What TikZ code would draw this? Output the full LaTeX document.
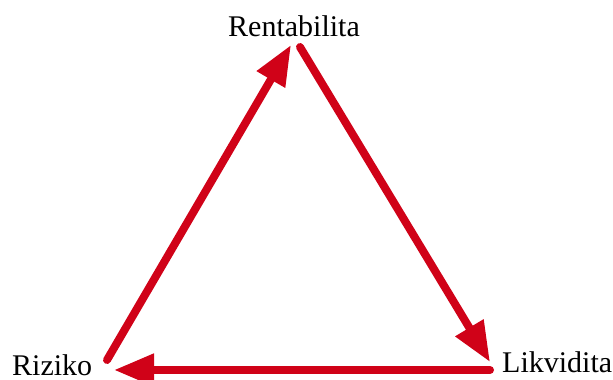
\documentclass[tikz,border=0pt]{standalone}
\usepackage{fontspec}
\setmainfont{Liberation Serif}
\usetikzlibrary{arrows.meta}
\definecolor{arrred}{RGB}{208,2,24}
\begin{document}
\begin{tikzpicture}[x=1pt,y=1pt,
  lbl/.style={inner sep=0pt,anchor=base west,font=\fontsize{30}{32}\selectfont},
  redarrow/.style={draw=arrred,line width=8pt,line cap=round,-{Triangle[length=40pt,width=31pt]}}]
\useasboundingbox (0,0) rectangle (613,380);
\node[lbl] (ren) at (228,343.5) {Rentabilita};
\node[lbl] (riz) at (12,4) {Riziko};
\node[lbl] (lik) at (502,7) {Likvidita};
\coordinate (rizout) at (107,20);
\coordinate (rentin) at (291,335);
\coordinate (rentout) at (300,333);
\coordinate (likin) at (490,18);
\coordinate (likout) at (490,10);
\coordinate (rizin) at (114,10);
\draw[redarrow] (rizout) -- (rentin);
\draw[redarrow] (rentout) -- (likin);
\draw[redarrow] (likout) -- (rizin);
\end{tikzpicture}
\end{document}
